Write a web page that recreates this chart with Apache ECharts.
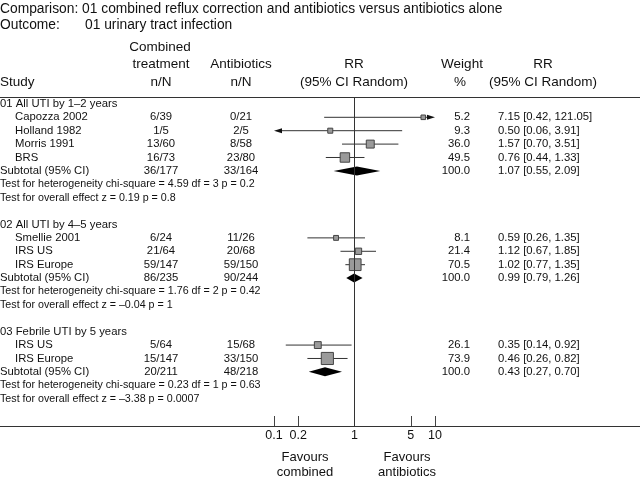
<!DOCTYPE html>
<html><head><meta charset="utf-8">
<script src="https://cdn.jsdelivr.net/npm/echarts@6/dist/echarts.min.js"></script>
<style>html,body{margin:0;padding:0;background:#fff}#c{width:640px;height:478px}</style>
</head><body><div id="c"></div>
<script>
// ---------- data ----------
const groupTitles = ['01 All UTI by 1\u20132 years', '02 All UTI by 4\u20135 years', '03 Febrile UTI by 5 years'];
const studyNames = [['Capozza 2002', 'Holland 1982', 'Morris 1991', 'BRS'], ['Smellie 2001', 'IRS US', 'IRS Europe'], ['IRS US', 'IRS Europe']];
const combinedNN = [['6/39', '1/5', '13/60', '16/73'], ['6/24', '21/64', '59/147'], ['5/64', '15/147']];
const antibioticsNN = [['0/21', '2/5', '8/58', '23/80'], ['11/26', '20/68', '59/150'], ['15/68', '33/150']];
const weights = [[5.2, 9.3, 36.0, 49.5], [8.1, 21.4, 70.5], [26.1, 73.9]];
const rrValues = [[7.15, 0.50, 1.57, 0.76], [0.59, 1.12, 1.02], [0.35, 0.46]];
const rrLower = [[0.42, 0.06, 0.70, 0.44], [0.26, 0.67, 0.77], [0.14, 0.26]];
const rrUpper = [[121.05, 3.91, 3.51, 1.33], [1.35, 1.85, 1.35], [0.92, 0.82]];
const subCombined = ['36/177', '86/235', '20/211'];
const subAntibiotics = ['33/164', '90/244', '48/218'];
const subWeight = [100.0, 100.0, 100.0];
const subRR = [1.07, 0.99, 0.43];
const subLower = [0.55, 0.79, 0.27];
const subUpper = [2.09, 1.26, 0.70];
const hetTests = ['Test for heterogeneity chi-square = 4.59 df = 3 p = 0.2', 'Test for heterogeneity chi-square = 1.76 df = 2 p = 0.42', 'Test for heterogeneity chi-square = 0.23 df = 1 p = 0.63'];
const overallTests = ['Test for overall effect z = 0.19 p = 0.8', 'Test for overall effect z = \u20130.04 p = 1', 'Test for overall effect z = \u20133.38 p = 0.0007'];
const tickValues = [0.1, 0.2, 1, 5, 10];
const axisMin = 0.1, axisMax = 10;

// ---------- layout ----------
const FONT = 'Liberation Sans';
const TXT = '#111';
const ROW_TOP = -0.515, ROW_BOTTOM = 24.04;
const COL = { group: 0, study: 15, comb: 161, anti: 241, weight: 470, rr: 498 };
const FS = { title: 13.8, head: 13.5, data: 11.3, test: 10.7, tick: 12.5, fav: 13 };

const rows = [];
let r = 0;
groupTitles.forEach((g, gi) => {
  rows.push({ kind: 'group', text: g, row: r++ });
  studyNames[gi].forEach((s, si) => {
    rows.push({ kind: 'study', name: s, comb: combinedNN[gi][si], anti: antibioticsNN[gi][si],
      w: weights[gi][si], rr: rrValues[gi][si], lo: rrLower[gi][si], hi: rrUpper[gi][si], row: r++ });
  });
  rows.push({ kind: 'subtotal', name: 'Subtotal (95% CI)', comb: subCombined[gi], anti: subAntibiotics[gi],
    w: subWeight[gi], rr: subRR[gi], lo: subLower[gi], hi: subUpper[gi], row: r++ });
  rows.push({ kind: 'test', text: hetTests[gi], row: r++ });
  rows.push({ kind: 'test', text: overallTests[gi], row: r++ });
  r++;
});
const fmtCI = d => d.rr.toFixed(2) + ' [' + d.lo.toFixed(2) + ', ' + d.hi.toFixed(2) + ']';

function txt(x, y, s, align, size) {
  return { type: 'text', style: { x: x, y: y, text: s, align: align, verticalAlign: 'middle',
    font: size + 'px "' + FONT + '"', fill: TXT } };
}

const chart = echarts.init(document.getElementById('c'), null, { renderer: 'canvas' });

const option = {
  animation: false,
  backgroundColor: '#fff',
  grid: [
    { left: 0, right: 0, top: 97, height: 329 },
    { left: 274, width: 161, top: 97, height: 329 }
  ],
  xAxis: [
    { gridIndex: 0, type: 'value', min: 0, max: 640, position: 'bottom',
      axisLine: { show: true, onZero: false, lineStyle: { color: '#333', width: 1 } },
      axisTick: { show: false }, axisLabel: { show: false }, splitLine: { show: false } },
    { gridIndex: 1, type: 'log', logBase: 10, min: axisMin, max: axisMax, position: 'bottom',
      axisLine: { show: false, onZero: false },
      axisTick: { show: true, inside: true, length: 10, customValues: [0.1, 0.2, 5, 10], lineStyle: { color: '#444' } },
      axisLabel: { show: true, customValues: tickValues, margin: 3, formatter: v => String(v),
        fontFamily: FONT, fontSize: FS.tick, color: TXT },
      splitLine: { show: false } },
    { gridIndex: 0, type: 'value', min: 0, max: 640, position: 'top',
      axisLine: { show: true, onZero: false, lineStyle: { color: '#333', width: 1 } },
      axisTick: { show: false }, axisLabel: { show: false }, splitLine: { show: false } }
  ],
  yAxis: [
    { gridIndex: 0, type: 'value', inverse: true, min: ROW_TOP, max: ROW_BOTTOM, show: false },
    { gridIndex: 1, type: 'value', inverse: true, min: ROW_TOP, max: ROW_BOTTOM, show: false }
  ],
  graphic: [
    txt(0, 9, 'Comparison: 01 combined reflux correction and antibiotics versus antibiotics alone', 'left', FS.title),
    txt(0, 25, 'Outcome:', 'left', FS.title),
    txt(85, 25, '01 urinary tract infection', 'left', FS.title),
    txt(0, 82, 'Study', 'left', FS.head),
    txt(160, 47, 'Combined', 'center', FS.head),
    txt(161, 64, 'treatment', 'center', FS.head),
    txt(161, 82, 'n/N', 'center', FS.head),
    txt(241, 64, 'Antibiotics', 'center', FS.head),
    txt(241, 82, 'n/N', 'center', FS.head),
    txt(354, 64, 'RR', 'center', FS.head),
    txt(354, 82, '(95% CI Random)', 'center', FS.head),
    txt(462, 64, 'Weight', 'center', FS.head),
    txt(460, 82, '%', 'center', FS.head),
    txt(543, 64, 'RR', 'center', FS.head),
    txt(543, 82, '(95% CI Random)', 'center', FS.head),
    txt(305, 457, 'Favours', 'center', FS.fav),
    txt(305, 472, 'combined', 'center', FS.fav),
    txt(407, 457, 'Favours', 'center', FS.fav),
    txt(407, 472, 'antibiotics', 'center', FS.fav)
  ].map(g => Object.assign(g, { silent: true })),
  series: [
    // table text
    {
      type: 'custom', xAxisIndex: 0, yAxisIndex: 0, silent: true, clip: false,
      data: rows.map(d => [0, d.row]),
      renderItem: (params, api) => {
        const d = rows[params.dataIndex];
        const y = api.coord([0, d.row])[1];
        const X = k => api.coord([COL[k], d.row])[0];
        const ch = [];
        if (d.kind === 'group') ch.push(txt(X('group'), y, d.text, 'left', FS.data));
        else if (d.kind === 'test') ch.push(txt(X('group'), y, d.text, 'left', FS.test));
        else {
          ch.push(txt(d.kind === 'study' ? X('study') : X('group'), y, d.name, 'left', FS.data));
          ch.push(txt(X('comb'), y, d.comb, 'center', FS.data));
          ch.push(txt(X('anti'), y, d.anti, 'center', FS.data));
          ch.push(txt(X('weight'), y, d.w.toFixed(1), 'right', FS.data));
          ch.push(txt(X('rr'), y, fmtCI(d), 'left', FS.data));
        }
        return { type: 'group', children: ch };
      }
    },
    // line of no effect
    {
      type: 'line', xAxisIndex: 1, yAxisIndex: 1, silent: true, symbol: 'none',
      data: [[1, ROW_TOP], [1, ROW_BOTTOM]],
      lineStyle: { color: '#333', width: 1 }
    },
    // study estimates
    {
      type: 'custom', xAxisIndex: 1, yAxisIndex: 1, silent: true, clip: false,
      data: rows.filter(d => d.kind === 'study').map(d => [d.rr, d.row, d.lo, d.hi, d.w]),
      renderItem: (params, api) => {
        const row = api.value(1), est = api.value(0), lo = api.value(2), hi = api.value(3), w = api.value(4);
        const loC = Math.max(lo, axisMin), hiC = Math.min(hi, axisMax);
        const p0 = api.coord([loC, row]), p1 = api.coord([hiC, row]), pc = api.coord([est, row]);
        const ch = [];
        const stroke = { stroke: '#333', lineWidth: 1 };
        const a = lo < axisMin ? 7 : 0, b = hi > axisMax ? 7 : 0;
        ch.push({ type: 'line', shape: { x1: p0[0] + a, y1: p0[1], x2: p1[0] - b, y2: p1[1] }, style: stroke });
        if (lo < axisMin) ch.push({ type: 'polygon', shape: { points: [[p0[0], p0[1]], [p0[0] + 8, p0[1] - 2.5], [p0[0] + 8, p0[1] + 2.5]] }, style: { fill: '#111' } });
        if (hi > axisMax) ch.push({ type: 'polygon', shape: { points: [[p1[0], p1[1]], [p1[0] - 8, p1[1] - 2.5], [p1[0] - 8, p1[1] + 2.5]] }, style: { fill: '#111' } });
        const s = 4 + 0.11 * w;
        ch.push({ type: 'rect', shape: { x: pc[0] - s / 2, y: pc[1] - s / 2, width: s, height: s },
          style: { fill: '#9a9a9a', stroke: '#444', lineWidth: 1 } });
        return { type: 'group', children: ch };
      }
    },
    // subtotal diamonds
    {
      type: 'custom', xAxisIndex: 1, yAxisIndex: 1, silent: true, clip: false,
      data: rows.filter(d => d.kind === 'subtotal').map(d => [d.rr, d.row, d.lo, d.hi]),
      renderItem: (params, api) => {
        const row = api.value(1);
        const pc = api.coord([api.value(0), row]), p0 = api.coord([api.value(2), row]), p1 = api.coord([api.value(3), row]);
        return { type: 'polygon', shape: { points: [[p0[0], pc[1]], [pc[0], pc[1] - 4.5], [p1[0], pc[1]], [pc[0], pc[1] + 4.5]] },
          style: { fill: '#000' } };
      }
    }
  ]
};
chart.setOption(option);
</script></body></html>
